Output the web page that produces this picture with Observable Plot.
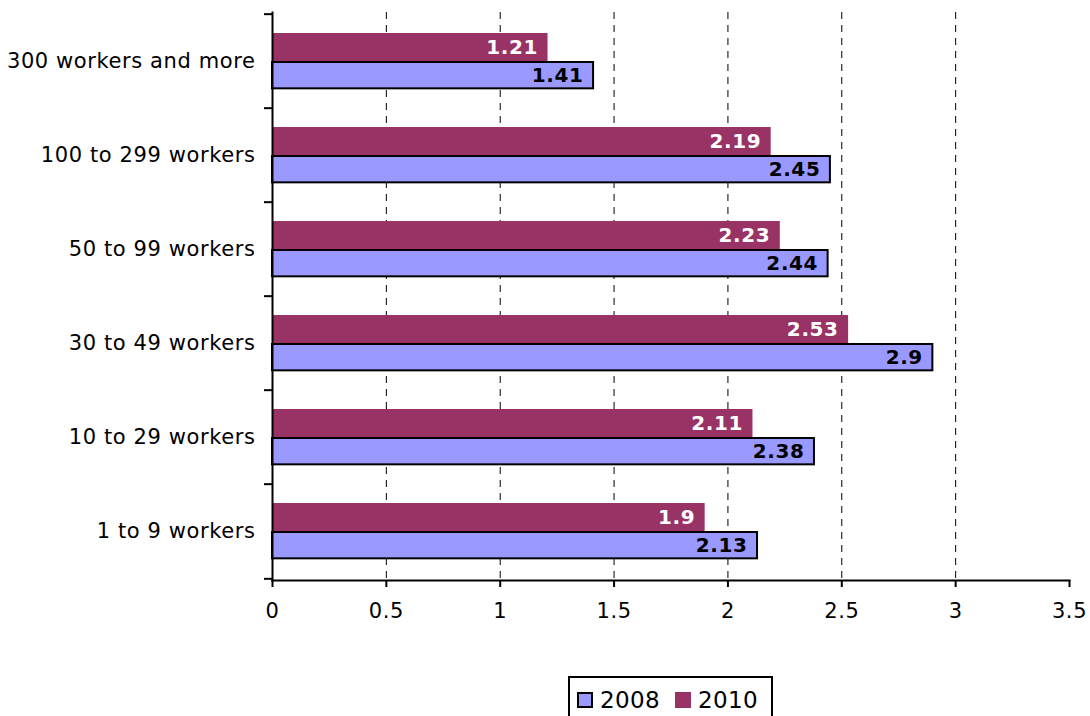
<!DOCTYPE html>
<html>
<head>
<meta charset="utf-8">
<script src="https://cdn.jsdelivr.net/npm/d3@7"></script>
<script src="https://cdn.jsdelivr.net/npm/@observablehq/plot@0.6"></script>
<style>
  html, body { margin: 0; padding: 0; background: #fff; overflow: hidden; }
  body { width: 1090px; height: 716px; position: relative; font-family: "DejaVu Sans", Verdana, sans-serif; }
  #chart svg { display: block; }
  #legend { position: absolute; left: 568px; top: 676px; width: 205px; height: 60px; border: 2px solid #000; box-sizing: border-box; background: #fff; }
  .item { position: absolute; top: 13px; font-size: 23px; line-height: 18px; display: flex; align-items: center; letter-spacing: 0.4px; }
  .sw { width: 16px; height: 16px; box-sizing: border-box; margin-right: 7px; }
</style>
</head>
<body>
<div id="chart"></div>
<div id="legend">
  <div class="item" style="left:7px"><span class="sw" style="background:#9999FF;border:2px solid #000"></span>2008</div>
  <div class="item" style="left:105px"><span class="sw" style="background:#993366"></span>2010</div>
</div>
<script>
const categories = ["300 workers and more", "100 to 299 workers", "50 to 99 workers", "30 to 49 workers", "10 to 29 workers", "1 to 9 workers"];
const values2008 = [1.41, 2.45, 2.44, 2.9, 2.38, 2.13];
const values2010 = [1.21, 2.19, 2.23, 2.53, 2.11, 1.9];
const xTicks = [0, 0.5, 1, 1.5, 2, 2.5, 3, 3.5];
const gridTicks = [0.5, 1, 1.5, 2, 2.5, 3];

const rows2008 = categories.map((c, i) => ({category: c, value: values2008[i]}));
const rows2010 = categories.map((c, i) => ({category: c, value: values2010[i]}));

const W = 1090, H = 640, mT = 12, mB = 60, mL = 272, mR = 21;
const bw = (H - mT - mB) / categories.length;
// within each band: 2010 bar on top, 2008 bar below
const top2010 = 19, mid = 48, bot2008 = 75;

const chart = Plot.plot({
  width: W, height: H,
  marginTop: mT, marginBottom: mB, marginLeft: mL, marginRight: mR,
  style: {fontFamily: "DejaVu Sans, Verdana, sans-serif", fontSize: "21px", color: "#000", background: "#fff"},
  x: {domain: [0, 3.5], axis: null, label: null},
  y: {domain: categories, padding: 0, axis: null, label: null},
  marks: [
    Plot.ruleX(gridTicks, {stroke: "#000", strokeWidth: 1, strokeDasharray: "7,6"}),
    Plot.barX(rows2010, {x: "value", y: "category", fill: "#993366", insetTop: top2010, insetBottom: bw - mid}),
    Plot.barX(rows2008, {x: "value", y: "category", fill: "#9999FF", stroke: "#000", strokeWidth: 2, insetTop: mid, insetBottom: bw - bot2008}),
    Plot.text(rows2010, {x: "value", y: "category", text: d => String(d.value), textAnchor: "end", dx: -10, dy: (top2010 + mid) / 2 - bw / 2, fill: "#fff", fontWeight: "bold", fontSize: 20}),
    Plot.text(rows2008, {x: "value", y: "category", text: d => String(d.value), textAnchor: "end", dx: -10, dy: (mid + bot2008) / 2 - bw / 2, fill: "#000", fontWeight: "bold", fontSize: 20}),
    Plot.axisY(categories, {tickSize: 0, tickPadding: 17, fontSize: 21, label: null}),
    Plot.axisY(categories, {tickSize: 8, tickFormat: () => "", dy: -bw / 2, strokeWidth: 2, label: null}),
    Plot.axisY([categories[categories.length - 1]], {tickSize: 8, tickFormat: () => "", dy: bw / 2, strokeWidth: 2, label: null}),
    Plot.axisX(xTicks, {ticks: xTicks, tickSize: 7, tickPadding: 16, tickFormat: d => String(d), strokeWidth: 2, fontSize: 21, label: null}),
    Plot.frame({anchor: "left", strokeWidth: 2}),
    Plot.frame({anchor: "bottom", strokeWidth: 2})
  ]
});
chart.querySelectorAll("text").forEach(t => { t.style.letterSpacing = "0.6px"; });
document.getElementById("chart").appendChild(chart);
</script>
</body>
</html>
